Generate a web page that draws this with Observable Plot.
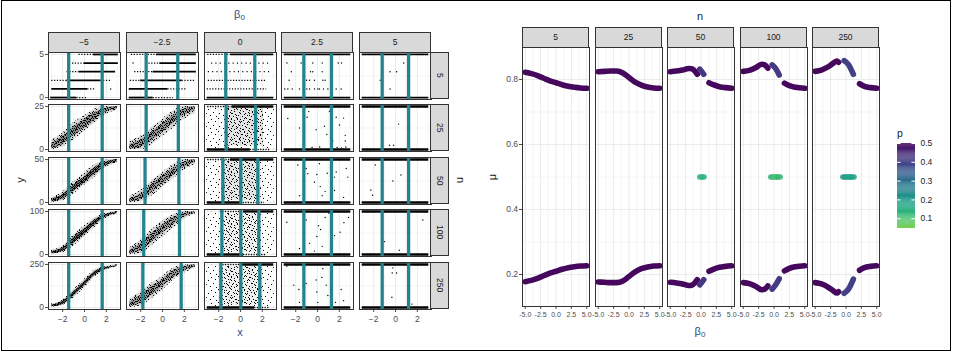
<!DOCTYPE html>
<html><head><meta charset="utf-8">
<script src="https://cdn.jsdelivr.net/npm/d3@7"></script>
<script src="https://cdn.jsdelivr.net/npm/@observablehq/plot@0.6"></script>
<style>
body{margin:0;background:#fff;}
#fig{position:relative;width:953px;height:352px;overflow:hidden;background:#fff;font-family:"Liberation Sans",Arial,sans-serif}
.strip{position:absolute;background:#d9d9d9;border:1px solid #333;box-sizing:border-box;font-size:8.5px;color:#1a1a1a;display:flex;align-items:center;justify-content:center;line-height:1}
.vert{writing-mode:vertical-rl}
</style></head>
<body>
<svg width="0" height="0" style="position:absolute;left:0;top:0">
<defs>
<pattern id="pat1" width="13" height="13" patternUnits="userSpaceOnUse" fill="#000" shape-rendering="crispEdges">
<rect x="1" y="1" width="1" height="1"/><rect x="7" y="2" width="1" height="1"/><rect x="11" y="4" width="1" height="1"/><rect x="4" y="5" width="1" height="1"/><rect x="9" y="8" width="1" height="1"/><rect x="2" y="9" width="1" height="1"/><rect x="6" y="11" width="1" height="1"/><rect x="12" y="12" width="1" height="1"/>
</pattern>
<pattern id="pat2" width="9" height="9" patternUnits="userSpaceOnUse" fill="#000" shape-rendering="crispEdges">
<rect x="0" y="0" width="1" height="1"/><rect x="4" y="1" width="1" height="1"/><rect x="7" y="2" width="1" height="1"/><rect x="2" y="3" width="1" height="1"/><rect x="5" y="4" width="1" height="1"/><rect x="6" y="5" width="1" height="1"/><rect x="0" y="6" width="1" height="1"/><rect x="3" y="7" width="1" height="1"/><rect x="8" y="8" width="1" height="1"/>
</pattern>
<pattern id="pat3" width="7" height="7" patternUnits="userSpaceOnUse" fill="#000" shape-rendering="crispEdges">
<rect x="0" y="0" width="1" height="1"/><rect x="3" y="0" width="1" height="1"/><rect x="5" y="0" width="1" height="1"/><rect x="1" y="1" width="1" height="1"/><rect x="6" y="1" width="1" height="1"/><rect x="2" y="2" width="1" height="1"/><rect x="4" y="2" width="1" height="1"/><rect x="0" y="3" width="1" height="1"/><rect x="5" y="3" width="1" height="1"/><rect x="2" y="4" width="1" height="1"/><rect x="3" y="4" width="1" height="1"/><rect x="1" y="5" width="1" height="1"/><rect x="6" y="5" width="1" height="1"/><rect x="4" y="6" width="1" height="1"/>
</pattern>
<pattern id="pat4" width="7" height="7" patternUnits="userSpaceOnUse" fill="#000" shape-rendering="crispEdges">
<rect x="0" y="0" width="1" height="1"/><rect x="2" y="0" width="1" height="1"/><rect x="4" y="0" width="1" height="1"/><rect x="5" y="0" width="1" height="1"/><rect x="1" y="1" width="1" height="1"/><rect x="3" y="1" width="1" height="1"/><rect x="6" y="1" width="1" height="1"/><rect x="0" y="2" width="1" height="1"/><rect x="2" y="2" width="1" height="1"/><rect x="4" y="2" width="1" height="1"/><rect x="5" y="2" width="1" height="1"/><rect x="1" y="3" width="1" height="1"/><rect x="3" y="3" width="1" height="1"/><rect x="6" y="3" width="1" height="1"/><rect x="0" y="4" width="1" height="1"/><rect x="2" y="4" width="1" height="1"/><rect x="5" y="4" width="1" height="1"/><rect x="1" y="5" width="1" height="1"/><rect x="3" y="5" width="1" height="1"/><rect x="4" y="5" width="1" height="1"/><rect x="6" y="5" width="1" height="1"/><rect x="0" y="6" width="1" height="1"/><rect x="2" y="6" width="1" height="1"/><rect x="5" y="6" width="1" height="1"/>
</pattern>
</defs></svg>
<div id="fig"></div>
<script>
// ---------------- DATA: left facet grid (x vs y) ----------------
const colLabels = ["\u22125", "\u22122.5", "0", "2.5", "5"];      // beta0 columns
const nRows = [5, 25, 50, 100, 250];                               // n rows
const xTicksLeft = [-2, 0, 2];
const xMinorLeft = [-3, -1, 1, 3];

// vertical teal lines per [column][row]
const tealX = [
  [[-1.45, 1.62], [-1.45, 1.62], [-1.45, 1.62], [-1.45, 1.62], [-1.45, 1.62]],
  [[-1.5, 1.4], [-1.5, 1.45], [-1.6, 1.5], [-1.72, 1.56], [-1.8, 1.71]],
  [[-1.35, 1.31], [-1.32, 1.38], [-1.62, 0.03, 1.59], [-1.71, 0.03, 1.68], [-1.8, 0.03, 1.77]],
  [[-1.25, 1.28], [-1.25, 1.28], [-1.25, 1.28], [-1.25, 1.28], [-1.25, 1.28]],
  [[-1.22, 1.2], [-1.22, 1.2], [-1.22, 1.2], [-1.22, 1.2], [-1.22, 1.2]]
];

// point-cloud bands (fraction of n) for beta0 = -5 and -2.5, rows n = 25..250
const bandX = [-3, -2, -1, 0, 1, 2, 3];
const bandPanels = [[0,1],[0,2],[0,3],[0,4],[1,1],[1,2],[1,3],[1,4]];
const bandOuterLo = [
  [0,0.06,0.22,0.42,0.62,0.82,0.9],[0,0.04,0.2,0.4,0.6,0.82,0.92],
  [0.01,0.04,0.2,0.41,0.64,0.84,0.94],[0.01,0.05,0.22,0.46,0.72,0.87,0.94],
  [0,0,0.1,0.3,0.5,0.7,0.85],[0,0.02,0.15,0.35,0.55,0.75,0.88],
  [0,0.02,0.2,0.41,0.61,0.82,0.94],[0,0.04,0.2,0.4,0.64,0.8,0.92]];
const bandOuterHi = [
  [0.22,0.38,0.62,0.78,0.94,1,1],[0.12,0.24,0.48,0.68,0.88,0.98,1],
  [0.1,0.2,0.45,0.66,0.86,0.96,1],[0.08,0.17,0.41,0.65,0.88,0.95,0.99],
  [0.2,0.3,0.5,0.7,0.9,1,1],[0.15,0.28,0.5,0.7,0.88,1,1],
  [0.16,0.33,0.57,0.78,0.93,1,1],[0.2,0.36,0.56,0.72,0.92,0.98,1]];
const bandInnerLo = [
  [0.02,0.12,0.32,0.5,0.7,0.87,0.94],[0.02,0.08,0.26,0.46,0.66,0.86,0.94],
  [0.02,0.07,0.26,0.47,0.7,0.87,0.95],[0.02,0.07,0.27,0.51,0.76,0.89,0.95],
  [0.01,0.05,0.2,0.4,0.6,0.8,0.9],[0.01,0.07,0.23,0.43,0.63,0.82,0.92],
  [0.02,0.08,0.28,0.5,0.7,0.87,0.95],[0.02,0.1,0.28,0.48,0.7,0.85,0.94]];
const bandInnerHi = [
  [0.14,0.3,0.52,0.7,0.86,0.96,0.99],[0.08,0.18,0.4,0.6,0.82,0.94,0.99],
  [0.07,0.15,0.39,0.6,0.81,0.93,0.98],[0.06,0.14,0.36,0.6,0.84,0.93,0.97],
  [0.12,0.22,0.4,0.6,0.8,0.94,0.99],[0.09,0.2,0.42,0.62,0.8,0.94,0.99],
  [0.1,0.25,0.48,0.7,0.86,0.96,0.99],[0.12,0.28,0.48,0.65,0.86,0.95,0.99]];

// scattered clouds for beta0 = 0: [row, x1, x2, f1, f2, density]
const cloudRects = [
  [1,-3.1,3.1,0.02,0.98,1],[1,-1.3,2.1,0.08,0.97,3],
  [2,-3.1,3.1,0.02,0.98,1],[2,-1.6,1.9,0.05,0.97,3],
  [3,-3.1,3.1,0.02,0.98,1],[3,-1.7,1.9,0.05,0.95,2],
  [4,-3.1,3.1,0.02,0.98,1],[4,-1.8,2.0,0.05,0.95,2]];

// n = 5 row: dotted levels [col, level, x1, x2, kind]  (d dense, s sparse, v very sparse)
const levelSegs = [
  [0,5,-0.5,0.8,"s"],[0,5,0.8,3.1,"d"],[0,4,-1.1,0,"s"],[0,4,0,3.1,"d"],[0,3,-1.6,-0.5,"s"],[0,3,-0.5,2.85,"d"],
  [0,2,-3,-1.6,"s"],[0,2,-1.6,1.5,"d"],[0,2,1.5,2.4,"s"],[0,1,-3,0.3,"d"],[0,1,0.3,1.0,"s"],[0,0,-3.1,-0.7,"d"],[0,0,-0.7,0.25,"s"],
  [1,5,-2.85,-0.56,"s"],[1,5,-0.56,3.1,"d"],[1,4,-1.5,-0.25,"s"],[1,4,-0.25,3.1,"d"],[1,3,-2.55,-0.86,"s"],[1,3,-0.86,3.1,"d"],
  [1,2,-2.95,-2.0,"s"],[1,2,-2.0,1.8,"d"],[1,2,1.8,2.97,"s"],[1,1,-3.05,0.5,"d"],[1,1,0.5,2.2,"s"],[1,0,-3.05,-0.86,"d"],[1,0,-0.86,1.0,"s"],
  [2,5,-3,-0.92,"s"],[2,5,-0.92,3.05,"d"],[2,4,-2.65,2.6,"v"],[2,3,-2.95,2.9,"v"],[2,2,-2.95,2.4,"s"],[2,1,-3.05,2.4,"s"],[2,0,-3.05,3.05,"d"],
  [3,5,-3.05,3.05,"d"],[3,0,-3.05,3.05,"d"],[4,5,-3.05,3.05,"d"],[4,0,-3.05,3.05,"d"]];

// dense strips at y = 0 and y = n, rows n = 25..250: [col, row, f, x1, x2, kind]
const stripSegs = [
  [2,1,0,-3.05,0.9,"d"],[2,1,0,0.9,2.8,"s"],[2,1,1,-3,-0.77,"s"],[2,1,1,-0.77,3.05,"d"],
  [2,2,0,-3.05,0,"d"],[2,2,0,0,2.2,"s"],[2,2,1,-3,-0.92,"s"],[2,2,1,-0.92,3.05,"d"],
  [2,3,0,-3.05,0.28,"d"],[2,3,0,0.28,2.4,"s"],[2,3,1,-1.85,0.28,"s"],[2,3,1,0.28,3.05,"d"],
  [2,4,0,-3.05,1.3,"d"],[2,4,0,1.3,2.6,"s"],[2,4,1,-1.85,0,"s"],[2,4,1,0,3.05,"d"],
  [3,1,0,-3.05,3.05,"d"],[3,1,1,-3.05,3.05,"d"],[3,2,0,-3.05,3.05,"d"],[3,2,1,-3.05,3.05,"d"],
  [3,3,0,-3.05,3.05,"d"],[3,3,1,-3.05,3.05,"d"],[3,4,0,-3.05,3.05,"d"],[3,4,1,-3.05,3.05,"d"],
  [4,1,0,-3.05,3.05,"d"],[4,1,1,-3.05,3.05,"d"],[4,2,0,-3.05,3.05,"d"],[4,2,1,-3.05,3.05,"d"],
  [4,3,0,-3.05,3.05,"d"],[4,3,1,-3.05,3.05,"d"],[4,4,0,-3.05,3.05,"d"],[4,4,1,-3.05,3.05,"d"]];

// individual scattered points: [col, row, x, f]
const scatterPts = [
  [0,0,2.4,0.2],[1,0,-2.7,0.8],
  [3,0,-2.8,0.8],[3,0,-1.5,0.8],[3,0,-0.43,0.8],[3,0,0.43,0.8],[3,0,1.9,0.8],[3,0,2.2,0.8],
  [3,0,-2.4,0.6],[3,0,-0.64,0.6],[3,0,-0.43,0.6],[3,0,0.43,0.6],[3,0,1.26,0.6],
  [3,0,-2.6,0.4],[3,0,-1.0,0.4],[3,0,-0.73,0.4],[3,0,-0.28,0.4],[3,0,0.49,0.4],[3,0,0.7,0.4],
  [3,0,-3.0,0.2],[3,0,-2.72,0.2],[3,0,-2.32,0.2],[3,0,-1.65,0.2],[3,0,-0.98,0.2],[3,0,-0.73,0.2],[3,0,-0.28,0.2],
  [3,0,0.03,0.2],[3,0,0.18,0.2],[3,0,0.55,0.2],[3,0,0.95,0.2],[3,0,1.71,0.2],[3,0,2.17,0.2],
  [4,0,0.76,0.8],[4,0,-0.5,0.6],[4,0,0.1,0.6],[4,0,-1.4,0.4],[4,0,-0.5,0.2],
  [3,1,-2.72,0.72],[3,1,-1.65,0.5],[3,1,-0.95,0.75],[3,1,-0.8,0.88],[3,1,-0.12,0.46],[3,1,0.64,0.54],[3,1,0.86,0.35],
  [3,1,1.1,0.89],[3,1,1.4,0.2],[3,1,1.71,0.75],[3,1,2.02,0.57],[3,1,2.39,0.73],[3,1,2.54,0.33],[3,1,2.54,0.2],
  [3,1,1.8,0.05],[3,1,2.2,0.04],[3,1,2.6,0.06],[3,1,-0.5,0.05],[3,1,0.2,0.06],
  [3,2,-1.8,0.87],[3,2,-1.04,0.79],[3,2,-0.89,0.67],[3,2,0.18,0.9],[3,2,1.56,0.59],[3,2,1.71,0.71],[3,2,2.63,0.79],
  [3,2,2.78,0.59],[3,2,-1.65,0.16],[3,2,-0.06,0.65],[3,2,0.25,0.37],[3,2,0.43,0.16],[3,2,0.7,0.26],[3,2,0.89,0.68],
  [3,2,2.39,0.12],[3,2,-0.28,0.47],[3,2,1.56,0.28],
  [3,3,-2.81,0.75],[3,3,-1.04,0.8],[3,3,-0.73,0.26],[3,3,-0.06,0.42],[3,3,0.09,0.67],[3,3,0.28,0.58],[3,3,0.43,0.19],
  [3,3,0.7,0.86],[3,3,1.04,0.96],[3,3,1.26,0.27],[3,3,1.56,0.44],[3,3,2.08,0.52],[3,3,2.42,0.74],[3,3,2.84,0.86],
  [3,3,-1.65,0.14],[3,3,-1.19,0.1],[3,3,-0.28,0.08],
  [3,4,-2.81,0.96],[3,4,-2.17,0.52],[3,4,-1.71,0.42],[3,4,-1.19,0.94],[3,4,-1.04,0.56],[3,4,-0.12,0.64],[3,4,-0.06,0.36],
  [3,4,0.4,0.7],[3,4,0.49,0.9],[3,4,0.8,0.52],[3,4,0.95,0.28],[3,4,1.26,0.56],[3,4,1.65,0.12],[3,4,2.17,0.42],
  [3,4,2.39,0.16],[3,4,0.03,0.12],[3,4,-1.65,0.12],
  [4,1,0.28,0.59],[4,1,-0.55,0.1],[4,1,-0.18,0.1],
  [4,2,-1.86,0.87],[4,2,-1.25,0.87],[4,2,0.5,0.64],[4,2,-2.26,0.29],[4,2,-2.1,0.17],[4,2,-0.24,0.5],
  [4,3,2.51,0.8],[4,3,-1.0,0.3],[4,3,0.34,0.1],
  [4,4,-0.3,0.8],[4,4,0.1,0.8],[4,4,-0.24,0.92],[4,4,-0.33,0.24],[4,4,1.5,0.08]];

// ---------------- DATA: right facets (mu vs beta0, colour = p) ----------------
const rightN = [5, 25, 50, 100, 250];
const muXTicks = [-5, -2.5, 0, 2.5, 5];
const muXMinor = [-3.75, -1.25, 1.25, 3.75];
const muYTicks = [0.2, 0.4, 0.6, 0.8];
const muYMinor = [0.3, 0.5, 0.7];
const legendTicks = [0.1, 0.2, 0.3, 0.4, 0.5];
const bFull = [-5, -4, -3, -2, -1, 0, 1, 2, 3, 4, 5];
const curves = [
  {panel:0, p:0.5, b:bFull, mu:[0.822,0.818,0.812,0.804,0.796,0.79,0.784,0.779,0.776,0.774,0.773]},
  {panel:0, p:0.5, b:bFull, mu:[0.178,0.182,0.188,0.196,0.204,0.21,0.216,0.221,0.224,0.226,0.227]},
  {panel:1, p:0.5, b:bFull, mu:[0.824,0.825,0.826,0.826,0.82,0.806,0.792,0.783,0.777,0.774,0.773]},
  {panel:1, p:0.5, b:bFull, mu:[0.177,0.176,0.175,0.175,0.18,0.194,0.208,0.218,0.223,0.226,0.227]},
  {panel:2, p:0.5, b:[-5,-4,-3,-2,-1.5,-1,-0.6], mu:[0.824,0.826,0.829,0.834,0.833,0.826,0.816]},
  {panel:2, p:0.42, b:[-0.2,0.1,0.45], mu:[0.832,0.825,0.816]},
  {panel:2, p:0.5, b:[1.3,2,3,4,5], mu:[0.79,0.784,0.778,0.775,0.773]},
  {panel:2, p:0.5, b:[-5,-4,-3,-2,-1.5,-1,-0.6], mu:[0.176,0.174,0.171,0.166,0.167,0.174,0.184]},
  {panel:2, p:0.42, b:[-0.2,0.1,0.45], mu:[0.168,0.175,0.184]},
  {panel:2, p:0.5, b:[1.3,2,3,4,5], mu:[0.21,0.216,0.222,0.225,0.227]},
  {panel:3, p:0.5, b:[-5,-4,-3,-2,-1.5,-1], mu:[0.825,0.828,0.836,0.847,0.845,0.835]},
  {panel:3, p:0.41, b:[-0.3,0.3,0.85], mu:[0.845,0.833,0.814]},
  {panel:3, p:0.5, b:[1.7,2.5,3.5,5], mu:[0.789,0.781,0.776,0.773]},
  {panel:3, p:0.5, b:[-5,-4,-3,-2,-1.5,-1], mu:[0.175,0.172,0.164,0.153,0.155,0.165]},
  {panel:3, p:0.41, b:[-0.3,0.3,0.85], mu:[0.155,0.169,0.187]},
  {panel:3, p:0.5, b:[1.7,2.5,3.5,5], mu:[0.211,0.219,0.224,0.227]},
  {panel:4, p:0.5, b:[-5,-4,-3,-2,-1.5,-1.2], mu:[0.825,0.829,0.838,0.851,0.857,0.853]},
  {panel:4, p:0.4, b:[-0.3,0.4,1.2], mu:[0.858,0.846,0.816]},
  {panel:4, p:0.5, b:[2.2,3,4,5], mu:[0.787,0.779,0.775,0.773]},
  {panel:4, p:0.5, b:[-5,-4,-3,-2,-1.5,-1.2], mu:[0.175,0.171,0.162,0.149,0.143,0.147]},
  {panel:4, p:0.4, b:[-0.3,0.4,1.2], mu:[0.142,0.155,0.186]},
  {panel:4, p:0.5, b:[2.2,3,4,5], mu:[0.213,0.221,0.225,0.227]}];
const greens = [
  {panel:2, b:[-0.2,0.15,0.5], mu:[0.5,0.5,0.5], p:[0.14,0.13,0.14]},
  {panel:3, b:[-0.5,-0.1,0.3,0.6,1.0], mu:[0.5,0.5,0.5,0.5,0.5], p:[0.2,0.12,0.08,0.1,0.16]},
  {panel:4, b:[-0.5,-0.1,0.4,0.9,1.3], mu:[0.5,0.5,0.5,0.5,0.5], p:[0.26,0.2,0.16,0.17,0.2]}];

// ---------------- RENDERING ----------------
const fig = document.getElementById("fig");
const FONT = '"Liberation Sans", Arial, sans-serif';
const minus = d => (d < 0 ? "\u2212" : "") + Math.abs(d);
const colorScale = {type: "linear", domain: [0, 0.5], interpolate: t => d3.interpolateViridis(0.02 + 0.86 * (1 - t))};
const TEAL = "#23838e", GRID = "#ebebeb";
const baseStyle = {background: "transparent", overflow: "visible", fontFamily: FONT, fontSize: "8.5px", color: "#4d4d4d"};

function put(el, left, top) { el.style.position = "absolute"; el.style.left = Math.round(left) + "px"; el.style.top = Math.round(top) + "px"; fig.appendChild(el); }
function label(html, cx, cy, o = {}) {
  const d = document.createElement("div");
  d.innerHTML = html;
  d.style.cssText = `position:absolute;left:${cx}px;top:${cy}px;transform:translate(-50%,-50%)${o.rotate ? ` rotate(${o.rotate}deg)` : ""};font-size:${o.size || 11}px;color:${o.color || "#1a1a1a"};white-space:nowrap;line-height:1;font-family:${FONT}`;
  fig.appendChild(d);
}
function strip(text, left, top, w, h, vert) {
  const d = document.createElement("div");
  d.className = "strip";
  d.style.left = Math.round(left) + "px"; d.style.top = Math.round(top) + "px"; d.style.width = w + "px"; d.style.height = h + "px";
  const s = document.createElement("span"); s.textContent = text; if (vert) s.className = "vert";
  d.appendChild(s); fig.appendChild(d);
}

// outer frame
const frame = document.createElement("div");
frame.style.cssText = "position:absolute;left:1px;top:0px;width:950px;height:351px;border:1.4px solid #000;box-sizing:border-box;";
fig.appendChild(frame);

// ---- left grid ----
const L = {left: 48, top: 52, w: 72, h: 47, dx: 77.8, dy: 52.4};
const pats = {1: "url(#pat1)", 2: "url(#pat2)", 3: "url(#pat3)", 4: "url(#pat4)"};
for (let c = 0; c < 5; c++) {
  strip(colLabels[c], L.left + c * L.dx, 32, L.w, 21, false);
  for (let r = 0; r < 5; r++) {
    const n = nRows[r];
    const ml = c === 0 ? 30 : 0, mb = r === 4 ? 24 : 0;
    const marks = [
      Plot.ruleX(xMinorLeft, {stroke: GRID, strokeWidth: 0.5}),
      Plot.ruleX(xTicksLeft, {stroke: GRID, strokeWidth: 1}),
      Plot.ruleY([n / 2], {stroke: GRID, strokeWidth: 0.5}),
      Plot.ruleY([0, n], {stroke: GRID, strokeWidth: 1})
    ];
    // clouds for beta0 = 0
    if (c === 2) {
      for (const d of cloudRects.filter(d => d[0] === r)) {
        const opts = {x1: e => e[1], x2: e => e[2], y1: e => e[3] * n, y2: e => e[4] * n};
        if (d[5] === 1) {
          marks.push(Plot.rect([d], {...opts, fill: pats[1]}));
        } else {
          marks.push(Plot.rect([d], {...opts, fill: "#000", fillOpacity: d[5] === 3 ? 0.1 : 0.06}));
          marks.push(Plot.rect([d], {...opts, fill: pats[2]}));
          if (d[5] === 3) marks.push(Plot.rect([d], {...opts, fill: pats[1]}));
        }
      }
    }
    // bands
    bandPanels.forEach((bp, k) => {
      if (bp[0] !== c || bp[1] !== r) return;
      const outer = bandX.map((x, i) => ({x, lo: bandOuterLo[k][i] * n, hi: bandOuterHi[k][i] * n}));
      const inner = bandX.map((x, i) => ({x, lo: bandInnerLo[k][i] * n, hi: bandInnerHi[k][i] * n}));
      const a = {x: "x", y1: "lo", y2: "hi", curve: "monotone-x"};
      const dark = c === 0 ? 0.25 + 0.1 * r : 0.3;
      marks.push(Plot.areaY(outer, {...a, fill: "#000", fillOpacity: 0.16}));
      marks.push(Plot.areaY(outer, {...a, fill: pats[2]}));
      marks.push(Plot.areaY(outer, {...a, fill: pats[1]}));
      marks.push(Plot.areaY(inner, {...a, fill: "#000", fillOpacity: dark}));
      marks.push(Plot.areaY(inner, {...a, fill: c === 0 && r >= 2 ? pats[4] : pats[3]}));
    });
    // n = 5 levels
    if (r === 0) {
      const segs = levelSegs.filter(d => d[0] === c);
      marks.push(Plot.ruleY(segs.filter(d => d[4] === "d"), {y: d => d[1], x1: d => d[2], x2: d => d[3], stroke: "#000", strokeWidth: 1.8}));
      marks.push(Plot.ruleY(segs.filter(d => d[4] === "s"), {y: d => d[1], x1: d => d[2], x2: d => d[3], stroke: "#000", strokeWidth: 1.3, strokeDasharray: "1.2,1.6"}));
      marks.push(Plot.ruleY(segs.filter(d => d[4] === "v"), {y: d => d[1], x1: d => d[2], x2: d => d[3], stroke: "#000", strokeWidth: 1.2, strokeDasharray: "1.1,3.2"}));
    } else {
      const segs = stripSegs.filter(d => d[0] === c && d[1] === r);
      marks.push(Plot.ruleY(segs.filter(d => d[5] === "d"), {y: d => d[2] * n, x1: d => d[3], x2: d => d[4], stroke: "#000", strokeWidth: 2.4}));
      marks.push(Plot.ruleY(segs.filter(d => d[5] === "s"), {y: d => d[2] * n, x1: d => d[3], x2: d => d[4], stroke: "#000", strokeWidth: 1.5, strokeDasharray: "1.2,1.4"}));
    }
    marks.push(Plot.dot(scatterPts.filter(d => d[0] === c && d[1] === r), {x: d => d[2], y: d => d[3] * n, r: 0.7, fill: "#000", stroke: "none"}));
    marks.push(Plot.ruleX(tealX[c][r], {stroke: TEAL, strokeWidth: 3.3}));
    marks.push(Plot.frame({stroke: "#333", strokeWidth: 1}));
    const svg = Plot.plot({
      width: L.w + ml, height: L.h + mb, marginLeft: ml, marginRight: 0, marginTop: 0, marginBottom: mb,
      x: {domain: [-3.3, 3.3], axis: r === 4 ? "bottom" : null, ticks: xTicksLeft, tickSize: 3, tickPadding: 3, tickFormat: minus, label: null},
      y: {domain: [-0.045 * n, 1.045 * n], axis: c === 0 ? "left" : null, ticks: [0, n], tickSize: 3, tickPadding: 1.5, tickFormat: d => String(d), label: null},
      style: baseStyle, marks
    });
    put(svg, L.left + c * L.dx - ml, L.top + r * L.dy);
  }
}
for (let r = 0; r < 5; r++) strip(String(nRows[r]), L.left + 4 * L.dx + L.w - 1, L.top + r * L.dy, 19, L.h, true);
label("\u03b2<sub style='font-size:8px;vertical-align:-2px'>0</sub>", 239.5, 15, {color: "#2b4a86"});
label("x", 240, 332, {color: "#2b4a86"});
label("y", 20, 180, {rotate: -90});
label("n", 460, 180, {rotate: 90});

// ---- right facets ----
const R = {left: 522, top: 47, w: 67, h: 259, dx: 72.5};
const curveRows = curves.flatMap((s, k) => s.b.map((b, i) => ({panel: s.panel, seg: k, b, mu: s.mu[i], p: s.p})));
const greenLinks = greens.flatMap(g => g.b.slice(0, -1).map((b, i) => ({panel: g.panel, b1: b, b2: g.b[i + 1], m1: g.mu[i], m2: g.mu[i + 1], p: (g.p[i] + g.p[i + 1]) / 2})));
for (let i = 0; i < 5; i++) {
  strip(String(rightN[i]), R.left + i * R.dx, 27, R.w, 21, false);
  const ml = i === 0 ? 26 : 0, mb = 22;
  const svg = Plot.plot({
    width: R.w + ml, height: R.h + mb, marginLeft: ml, marginRight: 0, marginTop: 0, marginBottom: mb,
    x: {domain: [-5.45, 5.45], ticks: muXTicks, tickSize: 3, tickPadding: 2.5, tickFormat: d => (d < 0 ? "-" : "") + Math.abs(d).toFixed(1), label: null},
    y: {domain: [0.1015, 0.8985], axis: i === 0 ? "left" : null, ticks: muYTicks, tickSize: 3, tickPadding: 1.5, tickFormat: d => d.toFixed(1), label: null},
    color: colorScale,
    style: baseStyle,
    marks: [
      Plot.ruleX(muXMinor, {stroke: GRID, strokeWidth: 0.5}),
      Plot.ruleX(muXTicks, {stroke: GRID, strokeWidth: 1}),
      Plot.ruleY(muYMinor, {stroke: GRID, strokeWidth: 0.5}),
      Plot.ruleY(muYTicks, {stroke: GRID, strokeWidth: 1}),
      Plot.line(curveRows.filter(d => d.panel === i), {x: "b", y: "mu", z: "seg", stroke: "p", strokeWidth: 5.6, strokeLinecap: "round", strokeLinejoin: "round", curve: "monotone-x"}),
      Plot.link(greenLinks.filter(d => d.panel === i), {x1: "b1", x2: "b2", y1: "m1", y2: "m2", stroke: "p", strokeOpacity: 0.85, strokeWidth: 5.6, strokeLinecap: "round"}),
      Plot.frame({stroke: "#333", strokeWidth: 1})
    ]
  });
  svg.querySelectorAll("g[aria-label^='x-axis']").forEach(g => g.setAttribute("font-size", "7"));
  put(svg, R.left + i * R.dx - ml, R.top);
}
label("n", 700, 16);
label("\u03bc", 492, 177, {rotate: -90});
label("\u03b2<sub style='font-size:8px;vertical-align:-2px'>0</sub>", 700, 332, {color: "#2b4a86"});

// ---- colour legend ----
const legendRamp = d3.range(0.048, 0.5, 0.005);
const leg = Plot.plot({
  width: 48, height: 95, marginLeft: 0, marginRight: 30, marginTop: 5, marginBottom: 5,
  x: {domain: [0, 1], axis: null},
  y: {domain: [0.048, 0.5], axis: "right", ticks: legendTicks, tickSize: 0, tickPadding: 5, tickFormat: d => d.toFixed(1), label: null},
  color: colorScale,
  style: {...baseStyle, color: "#1a1a1a"},
  marks: [
    Plot.rect(legendRamp, {x1: 0, x2: 1, y1: d => d, y2: d => Math.min(0.5, d + 0.0056), fill: d => d + 0.0025}),
    Plot.ruleY(legendTicks, {x1: 0, x2: 0.2, stroke: "#fff", strokeWidth: 1}),
    Plot.ruleY(legendTicks, {x1: 0.8, x2: 1, stroke: "#fff", strokeWidth: 1})
  ]
});
put(leg, 897, 138);
label("p", 900, 133, {size: 10.5});
</script>
</body></html>
